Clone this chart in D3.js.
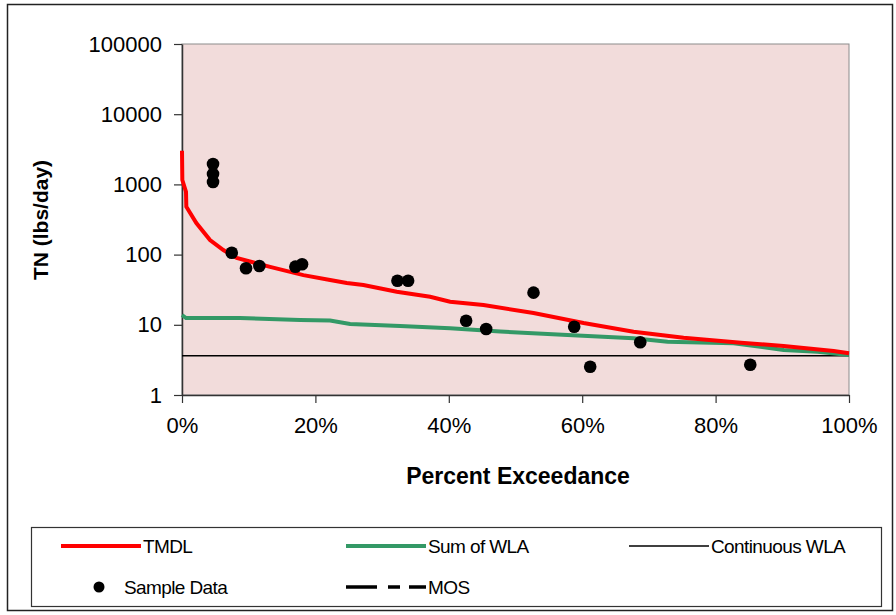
<!DOCTYPE html>
<html>
<head>
<meta charset="utf-8">
<script src="https://cdn.jsdelivr.net/npm/d3@7"></script>
<style>
  body { margin: 0; background: #fff; }
  svg { display: block; font-family: "Liberation Sans", Arial, sans-serif; }
</style>
</head>
<body>
<svg id="chart" width="896" height="615"></svg>
<script>
"use strict";

// TMDL curve: [percent exceedance, lbs/day]
const tmdl = [
  [0.000, 3020], [0.0005, 1155], [0.006, 787], [0.0065, 481], [0.0215, 282],
  [0.042, 161], [0.062, 116], [0.082, 89.5], [0.132, 67], [0.182, 51],
  [0.222, 43.5], [0.247, 39.4], [0.272, 36.9], [0.322, 29.6], [0.372, 25.1],
  [0.402, 21.3], [0.452, 19.1], [0.527, 14.7], [0.602, 10.6], [0.677, 7.98],
  [0.752, 6.55], [0.838, 5.56], [0.902, 4.99], [0.977, 4.24], [1.0, 3.93]
];

// Sum of WLA
const sumWla = [
  [0.000, 13.8], [0.006, 12.5], [0.087, 12.5], [0.177, 11.7], [0.222, 11.5],
  [0.252, 10.3], [0.327, 9.6], [0.402, 8.9], [0.477, 8.0], [0.578, 7.16],
  [0.677, 6.42], [0.728, 5.74], [0.827, 5.45], [0.902, 4.38], [0.953, 4.14],
  [1.0, 3.71]
];

// Continuous WLA (constant)
const continuousWla = [[0, 3.63], [1, 3.63]];

// Sample data points
const samples = [
  [0.0465, 1950], [0.0465, 1407], [0.0465, 1082], [0.0746, 106], [0.096, 63.8],
  [0.116, 68.8], [0.170, 67.3], [0.180, 72.8], [0.323, 42.5], [0.339, 42.5],
  [0.426, 11.4], [0.456, 8.7], [0.527, 28.7], [0.588, 9.4], [0.612, 2.53],
  [0.687, 5.63], [0.852, 2.70]
];

const yTicks = [1, 10, 100, 1000, 10000, 100000];
const xTicks = [0, 0.2, 0.4, 0.6, 0.8, 1.0];

const svg = d3.select("#chart");

// outer frame
svg.append("rect")
    .attr("x", 7.5).attr("y", 4.5)
    .attr("width", 885).attr("height", 606)
    .attr("fill", "#fff")
    .attr("stroke", "#222")
    .attr("stroke-width", 1.5);

const plot = { left: 182, right: 849, top: 44, bottom: 395 };

const x = d3.scaleLinear().domain([0, 1]).range([plot.left, plot.right]);
const y = d3.scaleLog().domain([1, 100000]).range([plot.bottom, plot.top]);

// plot background
svg.append("rect")
    .attr("x", plot.left).attr("y", plot.top)
    .attr("width", plot.right - plot.left).attr("height", plot.bottom - plot.top)
    .attr("fill", "#f2dcdb")
    .attr("stroke", "#8c8c8c")
    .attr("stroke-width", 1);

// axes
const xAxis = d3.axisBottom(x)
    .tickValues(xTicks)
    .tickFormat(d3.format(".0%"))
    .tickSize(8)
    .tickSizeOuter(0)
    .tickPadding(14);

const yAxis = d3.axisLeft(y)
    .tickValues(yTicks)
    .tickFormat(d3.format("d"))
    .tickSize(8)
    .tickSizeOuter(0)
    .tickPadding(12);

const gx = svg.append("g")
    .attr("transform", "translate(0," + plot.bottom + ")")
    .call(xAxis);
const gy = svg.append("g")
    .attr("transform", "translate(" + plot.left + ",0)")
    .call(yAxis);

[gx, gy].forEach((g) => {
  g.selectAll(".domain").attr("stroke", "#333").attr("stroke-width", 1.5);
  g.selectAll(".tick line").attr("stroke", "#333").attr("stroke-width", 1.2);
  g.selectAll(".tick text")
    .attr("font-family", "Liberation Sans, Arial, sans-serif")
    .attr("font-size", 22)
    .attr("fill", "#000");
});

// axis titles
svg.append("text")
    .attr("x", 518).attr("y", 484)
    .attr("text-anchor", "middle")
    .attr("font-size", 23)
    .attr("font-weight", "bold")
    .text("Percent Exceedance");

svg.append("text")
    .attr("transform", "translate(48,220) rotate(-90)")
    .attr("text-anchor", "middle")
    .attr("font-size", 21)
    .attr("font-weight", "bold")
    .text("TN (lbs/day)");

const line = d3.line()
    .x((d) => x(d[0]))
    .y((d) => y(d[1]));

// continuous WLA
svg.append("path")
    .datum(continuousWla)
    .attr("d", line)
    .attr("fill", "none")
    .attr("stroke", "#000")
    .attr("stroke-width", 1.6);

// sum of WLA
svg.append("path")
    .datum(sumWla)
    .attr("d", line)
    .attr("fill", "none")
    .attr("stroke", "#339966")
    .attr("stroke-width", 4);

// TMDL
svg.append("path")
    .datum(tmdl)
    .attr("d", line)
    .attr("fill", "none")
    .attr("stroke", "#ff0000")
    .attr("stroke-width", 4);

// sample dots
svg.append("g")
  .selectAll("circle")
  .data(samples)
  .enter().append("circle")
    .attr("cx", (d) => x(d[0]))
    .attr("cy", (d) => y(d[1]))
    .attr("r", 6.3)
    .attr("fill", "#000");

// legend
const legend = svg.append("g");
legend.append("rect")
    .attr("x", 31.5).attr("y", 527.5)
    .attr("width", 850).attr("height", 79)
    .attr("fill", "#fff")
    .attr("stroke", "#333")
    .attr("stroke-width", 1.2);

const legendItems = [
  { name: "TMDL",           col: 0, row: 0, kind: "line", color: "#ff0000", width: 4 },
  { name: "Sum of WLA",     col: 1, row: 0, kind: "line", color: "#339966", width: 4 },
  { name: "Continuous WLA", col: 2, row: 0, kind: "line", color: "#000",    width: 1.6 },
  { name: "Sample Data",    col: 0, row: 1, kind: "dot",  color: "#000" },
  { name: "MOS",            col: 1, row: 1, kind: "dash", color: "#000",    width: 3.5 }
];
const colX = [61, 346, 629];
const rowY = [546, 587];

legendItems.forEach((it) => {
  const x0 = colX[it.col], yy = rowY[it.row];
  if (it.kind === "dot") {
    legend.append("circle")
        .attr("cx", x0 + 38).attr("cy", yy)
        .attr("r", 5.5)
        .attr("fill", it.color);
  } else {
    legend.append("line")
        .attr("x1", x0).attr("x2", x0 + 80)
        .attr("y1", yy).attr("y2", yy)
        .attr("stroke", it.color)
        .attr("stroke-width", it.width)
        .attr("stroke-dasharray", it.kind === "dash" ? "31,11,12,9,17" : null);
  }
  legend.append("text")
      .attr("x", x0 + (it.kind === "dot" ? 63 : 82))
      .attr("y", yy)
      .attr("dy", "0.35em")
      .attr("font-size", 19)
      .attr("letter-spacing", -0.6)
      .text(it.name);
});
</script>
</body>
</html>
